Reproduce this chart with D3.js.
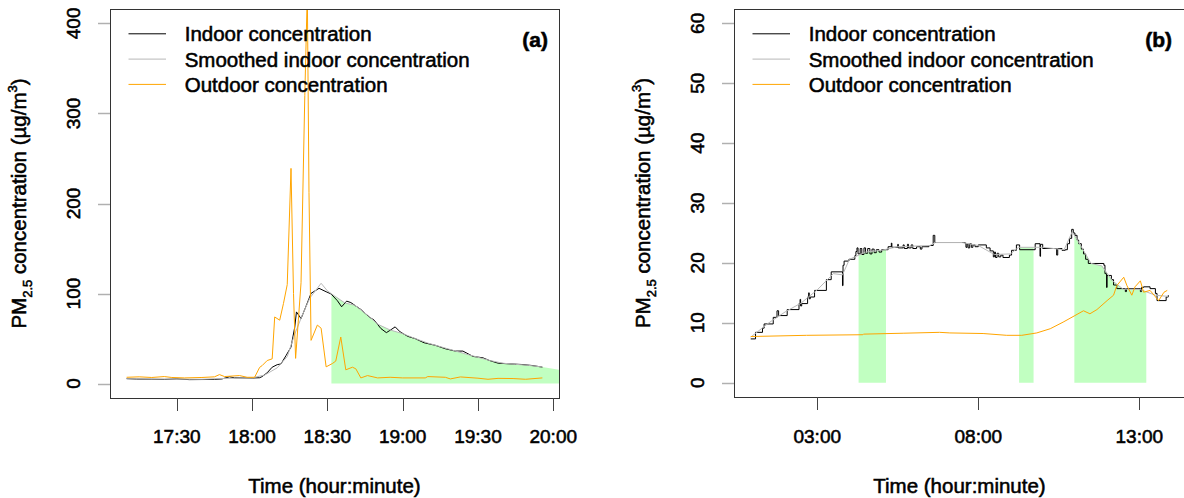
<!DOCTYPE html>
<html>
<head>
<meta charset="utf-8">
<script src="https://cdnjs.cloudflare.com/ajax/libs/d3/7.8.5/d3.min.js"></script>
<style>
  body { margin: 0; background: #fff; }
  svg text { font-family: "Liberation Sans", Arial, sans-serif; fill: #000; stroke: #000; stroke-width: 0.55px; }
</style>
</head>
<body>
<svg id="chart" width="1184" height="498"></svg>
<script>
'use strict';

// ---- panel (a) : evening event, PM2.5 in ug/m3 ----
var indoorA = [
  ['17:10', 5.5], ['17:14', 5.0], ['17:20', 4.8], ['17:25', 4.6], ['17:30', 5.2], ['17:35', 4.4],
  ['17:40', 4.5], ['17:45', 4.6], ['17:48', 5.2], ['17:51', 7.5], ['17:53', 6.4], ['17:56', 6.3],
  ['18:00', 6.2], ['18:03', 6.5], ['18:04', 7.8], ['18:06', 12.0], ['18:08', 18.2], ['18:10', 21.0],
  ['18:11:30', 21.8], ['18:13:30', 31.0], ['18:15:30', 40.6], ['18:17', 62.9], ['18:17:40', 79.6],
  ['18:19:30', 72.2], ['18:21:30', 86.0], ['18:23:30', 100.2], ['18:26:40', 105.8], ['18:29:30', 102.0],
  ['18:31:30', 99.5], ['18:34', 92.0], ['18:35:40', 85.3], ['18:37:40', 91.6], ['18:39:20', 90.0],
  ['18:43:20', 82.3], ['18:46:40', 74.0], ['18:48:40', 70.4], ['18:51:20', 61.1], ['18:53:30', 56.6],
  ['18:55', 59.2], ['18:57', 63.0], ['18:59', 57.4], ['19:02', 52.5], ['19:05', 49.9], ['19:08:30', 45.4],
  ['19:13', 42.5], ['19:17', 38.7], ['19:21', 36.1], ['19:24', 36.1], ['19:28', 30.2], ['19:32', 28.6],
  ['19:34:30', 25.7], ['19:38', 22.7], ['19:42', 22.0], ['19:47:30', 21.2], ['19:51:30', 20.1], ['19:55:40', 18.3]
];
var smoothA = [
  ['17:10', 5.4], ['17:20', 5.0], ['17:30', 5.0], ['17:40', 4.8], ['17:50', 5.8], ['18:00', 6.4],
  ['18:05', 9.5], ['18:10', 17.5], ['18:14', 30.0], ['18:17', 55.0], ['18:20', 76.0], ['18:23', 95.0],
  ['18:27:30', 111.4], ['18:30', 103.0], ['18:33', 97.0], ['18:37', 89.5], ['18:41', 87.0], ['18:46', 76.0],
  ['18:50', 66.0], ['18:55', 59.5], ['19:00', 55.5], ['19:05', 50.0], ['19:10', 45.0], ['19:15', 41.0],
  ['19:20', 37.0], ['19:25', 33.0], ['19:30', 29.2], ['19:35', 25.5], ['19:40', 22.6], ['19:45', 21.4],
  ['19:50', 20.3], ['19:55:40', 18.4]
];
var outdoorA = [
  ['17:10', 7.0], ['17:15', 7.5], ['17:20', 6.8], ['17:25', 7.8], ['17:28', 6.8], ['17:33', 6.3],
  ['17:40', 6.8], ['17:45', 7.5], ['17:47', 10.0], ['17:49', 7.8], ['17:55', 8.9], ['17:58', 7.0],
  ['18:01', 7.0], ['18:03', 18.0], ['18:04', 20.0], ['18:06', 25.6], ['18:08', 27.5], ['18:09', 74.0],
  ['18:11', 70.4], ['18:12:30', 89.0], ['18:14', 110.0], ['18:15:30', 239.0], ['18:16:30', 100.0],
  ['18:17:20', 28.0], ['18:19:30', 112.0], ['18:21', 320.0], ['18:22', 435.0], ['18:22:40', 212.0],
  ['18:23:30', 48.0], ['18:26', 65.0], ['18:27:30', 61.5], ['18:29:30', 18.6], ['18:32', 22.3],
  ['18:33:20', 25.0], ['18:35:20', 51.7], ['18:37:20', 15.3], ['18:40', 18.2], ['18:41:20', 16.4],
  ['18:43:20', 6.3], ['18:46', 8.9], ['18:50', 6.3], ['18:55', 7.0], ['19:00', 6.3], ['19:09', 6.3],
  ['19:10', 7.8], ['19:17', 7.0], ['19:19', 5.2], ['19:23', 7.4], ['19:30', 6.0], ['19:34', 4.8],
  ['19:38', 5.8], ['19:44', 5.6], ['19:49', 4.8], ['19:55:40', 6.3]
];
var shadeA = [['18:31:36', '20:03']];
var shadeTailA = 15.0;
var xTicksA = ['17:30', '18:00', '18:30', '19:00', '19:30', '20:00'];
var yTicksA = [0, 100, 200, 300, 400];

// ---- panel (b) : overnight / day, PM2.5 in ug/m3 ----
var indoorB = [
  ['00:56', 7.3], ['01:05', 8.4], ['01:18', 9.1], ['01:21', 9.8], ['01:38', 10.9], ['01:45', 12.0],
  ['01:48', 11.2], ['02:04', 12.2], ['02:26', 13.2], ['02:28', 13.9], ['02:29', 12.8], ['02:31', 13.2],
  ['02:42', 14.3], ['02:44', 15.0], ['02:45', 14.0], ['02:47', 14.3], ['02:55', 15.4], ['03:17', 17.2],
  ['03:26', 18.5], ['03:47', 16.2], ['03:48', 19.6], ['03:50', 20.3], ['03:59', 20.6], ['04:10', 21.2],
  ['04:12', 21.9], ['04:14', 22.5], ['04:16', 21.5], ['04:20', 22.4], ['04:23', 21.4], ['04:27', 22.5],
  ['04:30', 21.6], ['04:34', 22.4], ['04:38', 21.5], ['04:42', 22.3], ['04:46', 21.7], ['04:50', 22.2],
  ['04:55', 21.8], ['05:00', 22.2], ['05:12', 22.7], ['05:18', 23.3], ['05:19', 22.6], ['05:30', 23.1],
  ['05:31', 22.5], ['05:40', 23.0], ['05:42', 22.4], ['05:48', 23.1], ['05:50', 22.5], ['05:55', 23.0],
  ['05:58', 22.4], ['06:05', 22.7], ['06:12', 22.3], ['06:15', 22.7], ['06:28', 22.9], ['06:36', 24.6],
  ['06:39', 23.4], ['07:35', 23.3], ['07:37', 22.6], ['07:39', 23.2], ['07:41', 22.5], ['07:44', 23.2],
  ['07:47', 22.6], ['07:50', 23.0], ['07:54', 22.7], ['08:00', 23.0], ['08:15', 22.5], ['08:22', 22.0],
  ['08:28', 21.0], ['08:30', 21.8], ['08:32', 20.9], ['08:35', 21.6], ['08:38', 21.0], ['08:42', 21.3],
  ['08:46', 20.9], ['08:58', 21.3], ['09:02', 22.1], ['09:11', 23.0], ['09:17', 22.2], ['09:46', 23.2],
  ['09:55', 21.1], ['09:56', 23.1], ['10:00', 22.4], ['10:26', 21.3], ['10:28', 22.4], ['10:36', 22.1],
  ['10:42', 22.2], ['10:46', 23.2], ['10:50', 24.1], ['10:54', 25.6], ['10:57', 25.0], ['11:00', 24.6],
  ['11:04', 23.8], ['11:07', 23.2], ['11:12', 22.3], ['11:16', 21.5], ['11:20', 20.6], ['11:25', 19.9],
  ['11:54', 19.6], ['11:56', 18.2], ['11:59', 15.9], ['12:00', 17.9], ['12:08', 17.2], ['12:12', 16.3],
  ['12:18', 15.7], ['12:34', 15.2], ['12:36', 15.7], ['13:02', 15.2], ['13:04', 15.9], ['13:08', 16.0],
  ['13:20', 15.7], ['13:30', 14.9], ['13:33', 13.7], ['13:50', 14.3], ['13:54', 14.6]
];
var smoothB = [
  ['00:56', 7.6], ['01:30', 10.0], ['02:00', 11.8], ['02:30', 13.3], ['03:00', 15.5], ['03:30', 18.2],
  ['03:47', 18.0], ['04:00', 20.6], ['04:30', 21.8], ['05:00', 22.1], ['05:30', 22.7], ['06:30', 22.9],
  ['06:40', 23.4], ['07:30', 23.4], ['08:00', 22.9], ['08:30', 21.4], ['09:00', 21.5], ['09:15', 22.6],
  ['10:00', 22.6], ['10:40', 22.2], ['10:55', 25.2], ['11:10', 23.0], ['11:30', 19.9], ['11:50', 19.5],
  ['12:10', 17.0], ['12:30', 15.6], ['13:00', 15.6], ['13:30', 14.6], ['13:54', 14.4]
];
var outdoorB = [
  ['00:56', 7.7], ['02:40', 7.9], ['04:25', 8.0], ['04:26', 8.1], ['05:40', 8.25], ['06:48', 8.4],
  ['07:07', 8.3], ['08:09', 8.2], ['08:53', 7.9], ['09:21', 7.9], ['09:49', 8.3], ['10:14', 9.0],
  ['10:38', 10.1], ['11:00', 11.2], ['11:16', 12.0], ['11:28', 11.5], ['11:41', 12.2], ['12:00', 13.7],
  ['12:12', 14.6], ['12:18', 16.2], ['12:31', 17.6], ['12:37', 16.2], ['12:46', 14.6], ['12:52', 16.0],
  ['13:02', 17.0], ['13:08', 15.1], ['13:20', 15.4], ['13:36', 13.7], ['13:46', 15.1], ['13:52', 15.4]
];
var shadeB = [['04:17', '05:08'], ['09:16', '09:43'], ['10:59', '13:13']];
var xTicksB = ['03:00', '08:00', '13:00'];
var yTicksB = [0, 10, 20, 30, 40, 50, 60];

var legendLabels = ['Indoor concentration', 'Smoothed indoor concentration', 'Outdoor concentration'];
var legendColors = ['#000000', '#b8b8b8', '#ffa500'];

// "HH:MM[:SS]" -> minutes since midnight
function toMin(s) {
  var p = s.split(':').map(Number);
  return p[0] * 60 + p[1] + (p[2] || 0) / 60;
}
function prep(series) {
  return series.map(function(d) { return [toMin(d[0]), d[1]]; });
}
function valueAt(series, t, tail) {
  var i = d3.bisector(function(d) { return d[0]; }).right(series, t) - 1;
  if (i < 0) return series[0][1];
  if (i >= series.length - 1) return tail != null ? tail : series[series.length - 1][1];
  var a = series[i], b = series[i + 1];
  return a[1] + (b[1] - a[1]) * (t - a[0]) / (b[0] - a[0]);
}

var panels = [
  { box: { left: 110, top: 9, right: 559, bottom: 398 },
    indoor: prep(indoorA), smooth: prep(smoothA), outdoor: prep(outdoorA),
    shade: shadeA, tail: shadeTailA, xTicks: xTicksA, yTicks: yTicksA, yLim: [0, 400],
    step: false, tag: '(a)', id: 'a', tagX: 548 },
  { box: { left: 734, top: 9, right: 1185, bottom: 397 },
    indoor: prep(indoorB), smooth: prep(smoothB), outdoor: prep(outdoorB),
    shade: shadeB, tail: null, xTicks: xTicksB, yTicks: yTicksB, yLim: [0, 60],
    step: true, tag: '(b)', id: 'b', tagX: 1172 }
];

var svg = d3.select('#chart');

panels.forEach(function(p) {
  var b = p.box;
  var all = p.indoor.concat(p.smooth, p.outdoor);
  var ext = d3.extent(all, function(d) { return d[0]; });
  var pad = (ext[1] - ext[0]) * 0.04;
  var x = d3.scaleLinear().domain([ext[0] - pad, ext[1] + pad]).range([b.left, b.right]);
  var ypad = (p.yLim[1] - p.yLim[0]) * 0.04;
  var y = d3.scaleLinear().domain([p.yLim[0] - ypad, p.yLim[1] + ypad]).range([b.bottom, b.top]);

  var g = svg.append('g');
  g.append('clipPath').attr('id', 'clip-' + p.id)
    .append('rect').attr('x', b.left).attr('y', b.top)
    .attr('width', b.right - b.left).attr('height', b.bottom - b.top);

  var plot = g.append('g').attr('clip-path', 'url(#clip-' + p.id + ')');

  // shaded periods, area under smoothed indoor curve
  p.shade.forEach(function(iv) {
    var s = toMin(iv[0]), e = toMin(iv[1]);
    var pts = [[s, valueAt(p.smooth, s, p.tail)]];
    p.smooth.forEach(function(d) { if (d[0] > s && d[0] < e) pts.push(d); });
    pts.push([e, valueAt(p.smooth, e, p.tail)]);
    plot.append('path')
      .attr('d', d3.area().x(function(d) { return x(d[0]); })
        .y0(y(0)).y1(function(d) { return y(d[1]); })(pts))
      .attr('fill', '#c1ffc1');
  });

  var line = d3.line().x(function(d) { return x(d[0]); }).y(function(d) { return y(d[1]); });
  var stepLine = d3.line().curve(d3.curveStepAfter)
    .x(function(d) { return x(d[0]); }).y(function(d) { return y(d[1]); });

  plot.append('path').attr('d', (p.step ? stepLine : line)(p.indoor))
    .attr('fill', 'none').attr('stroke', legendColors[0]).attr('stroke-width', 1);
  plot.append('path').attr('d', line(p.smooth))
    .attr('fill', 'none').attr('stroke', legendColors[1]).attr('stroke-width', 1);
  plot.append('path').attr('d', line(p.outdoor))
    .attr('fill', 'none').attr('stroke', legendColors[2]).attr('stroke-width', 1);

  // box
  g.append('rect').attr('x', b.left + 0.5).attr('y', b.top + 0.5)
    .attr('width', b.right - b.left).attr('height', b.bottom - b.top)
    .attr('fill', 'none').attr('stroke', '#333').attr('stroke-width', 1);

  // y axis
  var ya = g.append('g').selectAll('g').data(p.yTicks).enter().append('g');
  ya.append('line').attr('x1', b.left - 12).attr('x2', b.left)
    .attr('y1', function(d) { return Math.round(y(d)) + 0.5; })
    .attr('y2', function(d) { return Math.round(y(d)) + 0.5; })
    .attr('stroke', '#b0b0b0').attr('stroke-width', 1.5);
  ya.append('text')
    .attr('transform', function(d) { return 'translate(' + (b.left - 30) + ',' + y(d) + ') rotate(-90)'; })
    .attr('text-anchor', 'middle').attr('font-size', 19)
    .text(function(d) { return d; });

  // x axis
  var xa = g.append('g').selectAll('g').data(p.xTicks).enter().append('g');
  xa.append('line')
    .attr('x1', function(d) { return Math.round(x(toMin(d))) + 0.5; })
    .attr('x2', function(d) { return Math.round(x(toMin(d))) + 0.5; })
    .attr('y1', b.bottom).attr('y2', b.bottom + 13)
    .attr('stroke', '#444').attr('stroke-width', 1);
  xa.append('text').attr('x', function(d) { return x(toMin(d)); }).attr('y', 443)
    .attr('text-anchor', 'middle').attr('font-size', 19)
    .text(function(d) { return d; });

  // axis titles
  g.append('text').attr('x', (b.left + b.right) / 2).attr('y', 493)
    .attr('text-anchor', 'middle').attr('font-size', 20.5)
    .text('Time (hour:minute)');

  var yt = g.append('text')
    .attr('transform', 'translate(' + (b.left - 84.5) + ',' + ((b.top + b.bottom) / 2) + ') rotate(-90)')
    .attr('text-anchor', 'middle').attr('font-size', 20.5);
  yt.append('tspan').text('PM');
  yt.append('tspan').attr('font-size', 13).attr('dy', 6).text('2.5');
  yt.append('tspan').attr('dy', -6).text(' concentration (\u00b5g/m');
  yt.append('tspan').attr('font-size', 13).attr('dy', -9).text('3');
  yt.append('tspan').attr('dy', 9).text(')');

  // legend
  var lg = g.append('g').selectAll('g').data(legendLabels).enter().append('g')
    .attr('transform', function(d, i) { return 'translate(' + b.left + ',' + (33.8 + i * 25.3) + ')'; });
  lg.append('line').attr('x1', 18.5).attr('x2', 56).attr('y1', 0).attr('y2', 0)
    .attr('stroke', function(d, i) { return legendColors[i]; }).attr('stroke-width', 1);
  lg.append('text').attr('x', 74.7).attr('y', 7.4).attr('font-size', 20.5)
    .text(function(d) { return d; });

  g.append('text').attr('x', p.tagX).attr('y', 47).attr('text-anchor', 'end')
    .attr('font-size', 21).attr('font-weight', 'bold')
    .text(p.tag);
});
</script>
</body>
</html>
